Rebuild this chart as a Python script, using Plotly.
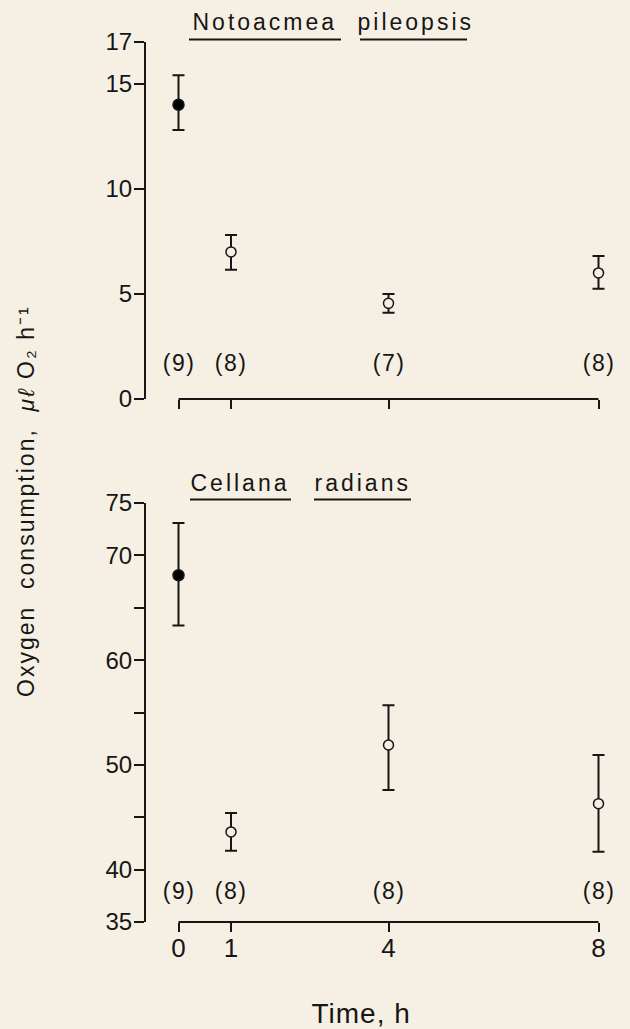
import json
import plotly.graph_objects as go

# ---------------- data ----------------
time_h = [0, 1, 4, 8]
fed_marker = [True, False, False, False]          # filled symbol at time 0

noto_mean = [14.0, 7.0, 4.55, 6.0]
noto_err_plus = [1.4, 0.8, 0.45, 0.8]
noto_err_minus = [1.2, 0.85, 0.45, 0.75]
noto_n = ["(9)", "(8)", "(7)", "(8)"]

cell_mean = [68.1, 43.6, 51.9, 46.3]
cell_err_plus = [5.0, 1.8, 3.8, 4.65]
cell_err_minus = [4.8, 1.8, 4.3, 4.6]
cell_n = ["(9)", "(8)", "(8)", "(8)"]

noto_tickvals = [0, 5, 10, 15, 17]
noto_ticktext = ["0", "5", "10", "15", "17"]
cell_tickvals = [35, 40, 50, 60, 70, 75]
cell_ticktext = ["35", "40", "50", "60", "70", "75"]
cell_minor_ticks = [45, 55, 65]
x_tickvals = [0, 1, 4, 8]
x_ticktext = ["0", "1", "4", "8"]

noto_title = ["Notoacmea", "pileopsis"]
cell_title = ["Cellana", "radians"]
y_title = "Oxygen  consumption,  <i>μℓ</i> O₂ h⁻¹"
x_title = "Time, h"

# ---------------- layout geometry ----------------
W, H = 630, 1029
L, R = 146, 5
PW = W - L - R
BG = "#f6f0e4"
INK = "#161616"
FONT = "Liberation Sans, Arial, Helvetica, sans-serif"


def px_x(px):
    return (px - L) / PW


def px_y(py):
    return 1 - py / H


x0_px, px_per_h = 178.5, 52.5
x_range = [(L - x0_px) / px_per_h, (L + PW - x0_px) / px_per_h]

top_dom = [px_y(399), px_y(41.7)]
bot_dom = [px_y(922), px_y(503)]

fig = go.Figure()


def add_series(mean, ep, em, xa, ya):
    fig.add_trace(go.Scatter(
        x=time_h, y=mean, mode="markers", xaxis=xa, yaxis=ya,
        error_y=dict(type="data", array=ep, arrayminus=em, symmetric=False,
                     color=INK, thickness=2, width=6),
        marker=dict(
            size=[11 if f else 10 for f in fed_marker],
            color=["#000000" if f else BG for f in fed_marker],
            line=dict(color=INK, width=1.5),
            symbol="circle", opacity=1),
        cliponaxis=False, showlegend=False, hoverinfo="skip"))


add_series(noto_mean, noto_err_plus, noto_err_minus, "x", "y")
add_series(cell_mean, cell_err_plus, cell_err_minus, "x2", "y2")

axis_common = dict(showgrid=False, zeroline=False, ticks="outside", tickwidth=2,
                   tickcolor=INK, automargin=False)
tick_font = dict(family=FONT, size=24, color=INK)

fig.update_layout(
    width=W, height=H, paper_bgcolor=BG, plot_bgcolor=BG,
    margin=dict(l=L, r=R, t=0, b=0, pad=0, autoexpand=False),
    font=dict(family=FONT, color=INK),
    xaxis=dict(domain=[0, 1], range=x_range, anchor="y", tickvals=x_tickvals,
               showticklabels=False, showline=False, ticklen=9, **axis_common),
    yaxis=dict(domain=top_dom, range=[0, 17], anchor="x", tickvals=noto_tickvals,
               ticktext=noto_ticktext, tickfont=tick_font, showline=True,
               linecolor=INK, linewidth=2, ticklen=10, ticklabelstandoff=-3,
               **axis_common),
    xaxis2=dict(domain=[0, 1], range=x_range, anchor="y2", tickvals=x_tickvals,
                ticktext=x_ticktext, tickfont=dict(family=FONT, size=26, color=INK),
                showline=False, ticklen=9, ticklabelstandoff=-6, **axis_common),
    yaxis2=dict(domain=bot_dom, range=[35, 75], anchor="x2", tickvals=cell_tickvals,
                ticktext=cell_ticktext, tickfont=tick_font, showline=True,
                linecolor=INK, linewidth=2, ticklen=10, ticklabelstandoff=-3,
                minor=dict(tickvals=cell_minor_ticks, ticks="outside", ticklen=10,
                           tickwidth=2, tickcolor=INK, showgrid=False),
                **axis_common),
)

shapes = []
# detached time axes running from first to last sampling time
for xa, dom in (("x", top_dom), ("x2", bot_dom)):
    shapes.append(dict(type="line", xref=xa, yref="paper", x0=time_h[0], x1=time_h[-1],
                       y0=dom[0], y1=dom[0], line=dict(color=INK, width=2)))

annotations = []
spacing = []   # letter spacing (px) per annotation, mimicking the spaced typesetting
for t, n in zip(time_h, noto_n):
    annotations.append(dict(x=t, y=1.7, xref="x", yref="y", text=n, showarrow=False,
                            font=dict(family=FONT, size=23, color=INK)))
    spacing.append(1.5)
for t, n in zip(time_h, cell_n):
    annotations.append(dict(x=t, y=38.0, xref="x2", yref="y2", text=n, showarrow=False,
                            font=dict(family=FONT, size=23, color=INK)))
    spacing.append(1.5)

# underlined species names
title_specs = [
    (noto_title[0], 265, 22, 189, 341, 39.5),
    (noto_title[1], 415.5, 22, 360, 467, 39.5),
    (cell_title[0], 240, 482.5, 190, 291, 499.5),
    (cell_title[1], 362.5, 482.5, 314, 411, 499.5),
]
for txt, cx, cy, u0, u1, uy in title_specs:
    annotations.append(dict(x=px_x(cx), y=px_y(cy), xref="paper", yref="paper", text=txt,
                            showarrow=False, xanchor="center", yanchor="middle",
                            font=dict(family=FONT, size=23, color=INK)))
    spacing.append(3)
    shapes.append(dict(type="line", xref="paper", yref="paper", x0=px_x(u0), x1=px_x(u1),
                       y0=px_y(uy), y1=px_y(uy), line=dict(color=INK, width=2)))

annotations.append(dict(x=px_x(26), y=px_y(501), xref="paper", yref="paper", text=y_title,
                        textangle=-90, showarrow=False, xanchor="center", yanchor="middle",
                        font=dict(family=FONT, size=23, color=INK)))
spacing.append(2)
annotations.append(dict(x=px_x(361), y=px_y(1013), xref="paper", yref="paper", text=x_title,
                        showarrow=False, xanchor="center", yanchor="middle",
                        font=dict(family=FONT, size=28, color=INK)))
spacing.append(1)

fig.update_layout(shapes=shapes, annotations=annotations)

post = """
var gd = document.getElementById('{plot_id}');
var sp = %s;
gd.querySelectorAll('g.annotation').forEach(function(g){
  var i = parseInt(g.getAttribute('data-index'));
  var t = g.querySelector('text.annotation-text');
  if (t && !isNaN(i) && sp[i] !== undefined) { t.style.letterSpacing = sp[i] + 'px'; }
});
""" % json.dumps(spacing)

fig.write_html("out.html", post_script=post)
